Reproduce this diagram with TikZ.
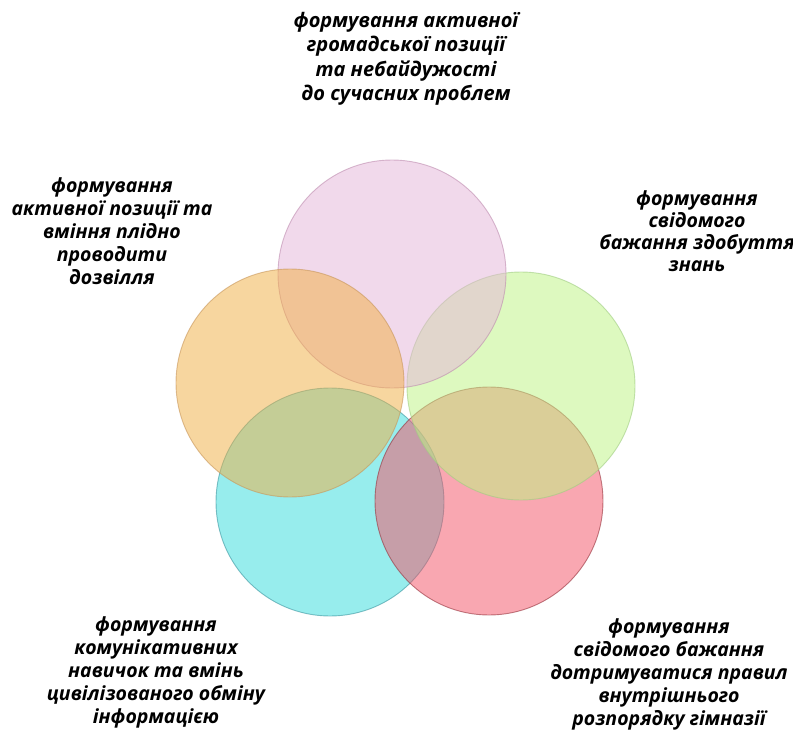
\documentclass[tikz,border=0pt]{standalone}
\usepackage{fontspec}
\setmainfont{Open Sans}
\begin{document}
\begin{tikzpicture}[x=1pt,y=-1pt,
  bubble/.style={fill opacity=0.5,draw opacity=0.6,line width=0.9pt},
  lbl/.style={align=center,font=\fontsize{19.5}{23}\selectfont\bfseries\itshape,inner sep=0pt}]
\definecolor{cpink}{RGB}{229,181,217}
\definecolor{corange}{RGB}{241,175,65}
\definecolor{cgreen}{RGB}{189,245,129}
\definecolor{ccyan}{RGB}{49,221,221}
\definecolor{cred}{RGB}{245,81,101}
\definecolor{pinkline}{RGB}{190,140,175}
\definecolor{orangeline}{RGB}{200,150,90}
\definecolor{greenline}{RGB}{160,205,130}
\definecolor{cyanline}{RGB}{60,150,160}
\definecolor{redline}{RGB}{150,50,60}
\useasboundingbox (0,0) rectangle (793,731);
\fill[white] (0,0) rectangle (793,731);
\path[bubble,fill=ccyan,draw=cyanline] (330,502) circle[radius=114pt];
\path[bubble,fill=cred,draw=redline] (489,501) circle[radius=114pt];
\path[bubble,fill=cgreen,draw=greenline] (521,386) circle[radius=114pt];
\path[bubble,fill=cpink,draw=pinkline] (392,274) circle[radius=114pt];
\path[bubble,fill=corange,draw=orangeline] (290,383) circle[radius=114pt];
\node[lbl,font=\fontsize{20}{24.5}\selectfont\bfseries\itshape] (top) at (406,59) {формування активної\\громадської позиції\\та небайдужості\\до сучасних проблем};
\node[lbl] (left) at (112,231) {формування\\активної позиції та\\вміння плідно\\проводити\\дозвілля};
\node[lbl,font=\fontsize{19.5}{22}\selectfont\bfseries\itshape] (right) at (697,231) {формування\\свідомого\\бажання здобуття\\знань};
\node[lbl] (bl) at (156,672) {формування\\комунікативних\\навичок та вмінь\\цивілізованого обміну\\інформацією};
\node[lbl] (br) at (669,674) {формування\\свідомого бажання\\дотримуватися правил\\внутрішнього\\розпорядку гімназії};
\end{tikzpicture}
\end{document}
